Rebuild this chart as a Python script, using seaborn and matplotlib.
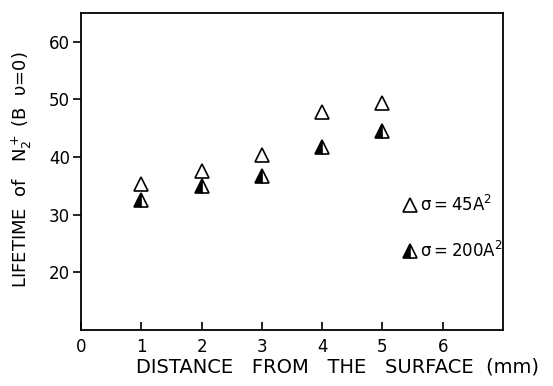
import matplotlib
matplotlib.use("Agg")
import matplotlib.pyplot as plt
import seaborn as sns
import pandas as pd

distance = [1, 2, 3, 4, 5]
lifetime_45 = [35.4, 37.6, 40.3, 47.8, 49.3]
lifetime_200 = [32.5, 34.9, 36.8, 41.8, 44.5]
xticks = [0, 1, 2, 3, 4, 5, 6]
yticks = [20, 30, 40, 50, 60]

sns.set_theme(style="white")
plt.rcParams['font.family'] = ['DejaVu Sans']
plt.rcParams['mathtext.fontset'] = 'dejavusans'

fig = plt.figure(figsize=(5.53, 3.86), dpi=100)
ax = fig.add_axes([81/553, 1-330/386, (503-81)/553, (330-13)/386])

df45 = pd.DataFrame({"d": distance, "t": lifetime_45})
df200 = pd.DataFrame({"d": distance, "t": lifetime_200})

sns.lineplot(data=df45, x="d", y="t", ax=ax, marker="^", linestyle="", errorbar=None,
             markersize=10.5, markerfacecolor="white", markeredgecolor="black",
             markeredgewidth=1.2, color="black")
sns.lineplot(data=df200, x="d", y="t", ax=ax, marker="^", linestyle="", errorbar=None,
             markersize=10.5, markerfacecolor="black", markerfacecoloralt="white",
             fillstyle="left", markeredgecolor="black", markeredgewidth=1.2, color="black")

ax.set_xlim(0, 7)
ax.set_ylim(10, 65)
ax.set_xticks(xticks)
ax.set_yticks(yticks)
ax.set_xticklabels([str(v) for v in xticks], fontsize=12, color="black")
ax.set_yticklabels([str(v) for v in yticks], fontsize=12, color="black")
ax.tick_params(axis="x", direction="in", length=6, width=1.2, colors="black", pad=6, bottom=True)
ax.tick_params(axis="y", direction="out", length=6, width=1.2, colors="black", pad=2, left=True)
for s in ax.spines.values():
    s.set_color("black")
    s.set_linewidth(1.3)

ax.set_xlabel("")
ax.set_ylabel("")
fig.text(337/553, 1-367/386, "DISTANCE   FROM   THE   SURFACE  (mm)", ha="center", va="center",
         fontsize=14, color="black")
fig.text(22/553, 1-170/386, r"LIFETIME  of   N$_2^+$ (B  υ=0)", ha="center", va="center",
         rotation=90, fontsize=13, color="black")

def dx(px):
    return (px - 81) / (503 - 81) * 7

def dy(py):
    return 10 + (330 - py) / 317 * 55

# in-plot key
ax.plot([dx(410)], [dy(205)], marker="^", markersize=10,
        markerfacecolor="white", markeredgecolor="black", markeredgewidth=1.2, linestyle="")
ax.plot([dx(410)], [dy(251)], marker="^", markersize=10,
        markerfacecolor="black", markerfacecoloralt="white", fillstyle="left",
        markeredgecolor="black", markeredgewidth=1.2, linestyle="")
ax.text(dx(420), dy(205), "σ\u2009=\u200945A$^2$", fontsize=12, va="center",
        ha="left", color="black")
ax.text(dx(420), dy(251), "σ\u2009=\u2009200A$^2$", fontsize=12, va="center",
        ha="left", color="black")

fig.savefig("out.png", dpi=100)
